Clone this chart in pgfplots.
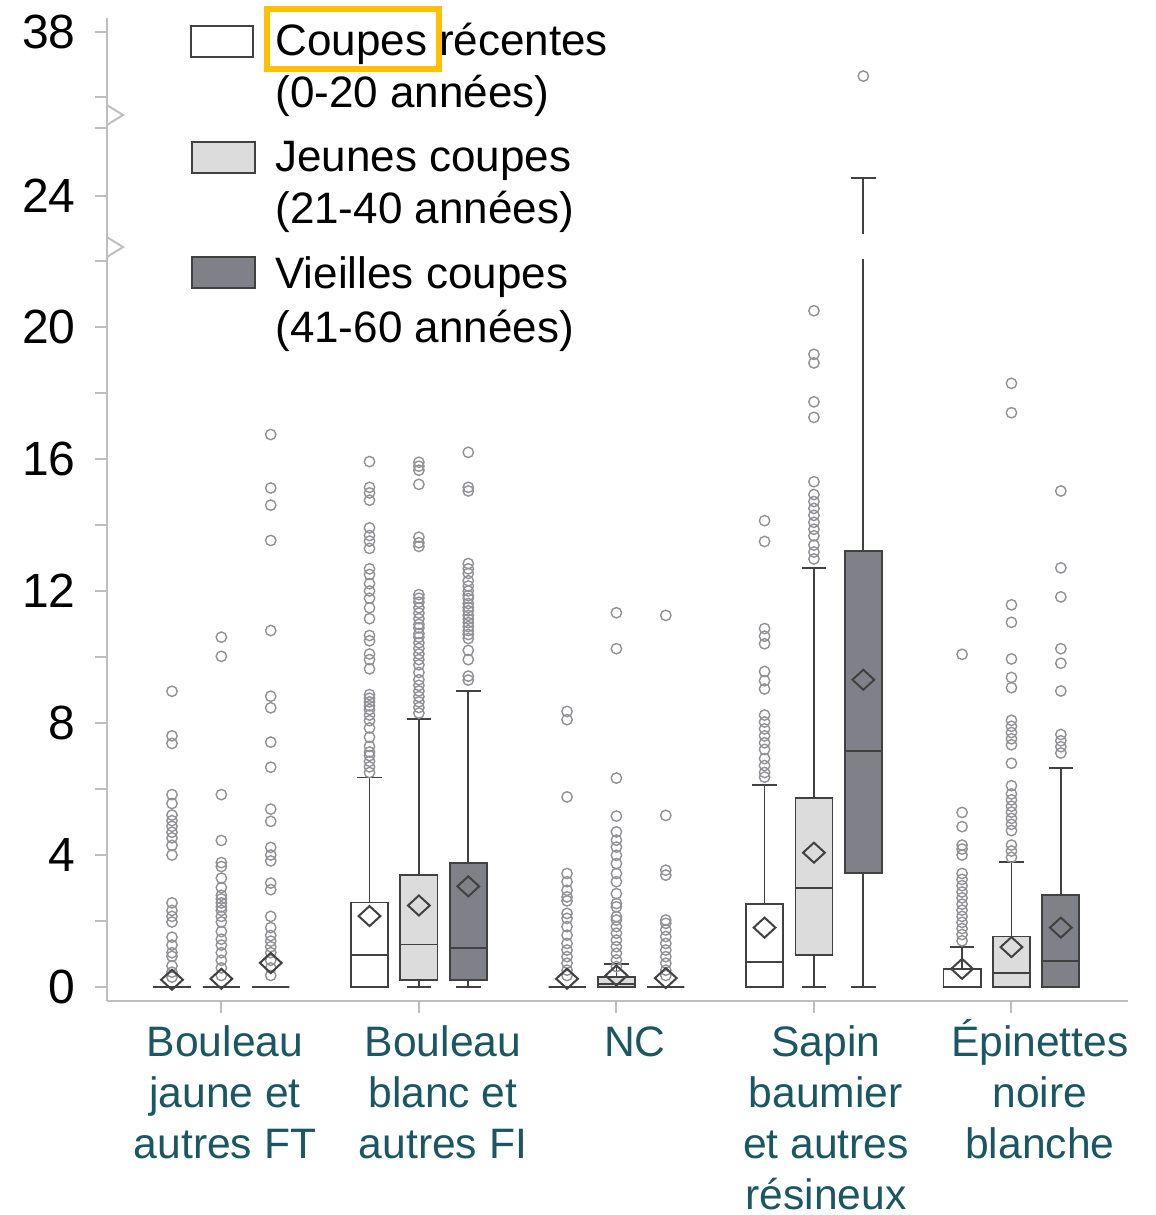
\documentclass[border=0pt]{standalone}
\usepackage{pgfplots}
\pgfplotsset{compat=1.18}
\usepgfplotslibrary{statistics}
\usepackage{fontspec}
\setmainfont{Liberation Sans}
\definecolor{axisgray}{RGB}{190,190,190}
\definecolor{boxline}{RGB}{65,65,65}
\definecolor{lightfill}{RGB}{220,220,220}
\definecolor{darkfill}{RGB}{128,128,136}
\definecolor{outl}{RGB}{145,145,150}
\definecolor{labteal}{RGB}{26,87,99}
\definecolor{hl}{RGB}{255,192,0}
\pgfplotsset{
  boxplot/draw direction=y,
  bx/.style={draw=boxline, line width=0.9pt, solid, mark=none},
  outp/.style={only marks, mark=o, mark size=2.6pt, draw=outl, mark options={line width=0.7pt, draw=outl}},
}
\newcommand{\fl}{\rule{0pt}{19.5pt}}
\begin{document}
\begin{tikzpicture}
\path[use as bounding box] (0,0) rectangle (578pt,-607.5pt);
\begin{axis}[
  at={(53.5pt,-500.5pt)}, anchor=south west,
  scale only axis, width=510.5pt, height=491.5pt,
  xmin=-1.316, xmax=19.36, ymin=-0.424, ymax=29.36,
  axis x line*=bottom, axis y line*=left,
  axis line style={axisgray, line width=1pt, -},
  xtick={1,5,9,13,17},
  xticklabels={,,,,},
  ytick={0,2,4,6,8,10,12,14,16,18,20,22,23.97,26.03,26.97,28.94},
  yticklabels={0,,4,,8,,12,,16,,20,,24,,,38},
  yticklabel style={font=\fontsize{24}{24}\selectfont, inner sep=0pt, anchor=east, xshift=-9.5pt},
  tick style={axisgray, line width=1pt},
  major tick length=6pt,
  tick align=outside,
  clip=false,
]
% outliers
\addplot[outp] coordinates {(0,8.96) (0,7.61) (0,7.38) (0,5.83) (0,5.56) (0,5.21) (0,5.04) (0,4.87) (0,4.69) (0,4.52) (0,4.29) (0,4.0) (0,2.55) (0,2.32) (0,2.14) (0,1.97) (0,1.51) (0,1.27) (0,1.04) (0,0.93) (0,0.64) (0,0.45) (0,0.3)};
\addplot[outp] coordinates {(1,10.6) (1,10.02) (1,5.83) (1,4.44) (1,3.77) (1,3.65) (1,3.30) (1,3.01) (1,2.78) (1,2.67) (1,2.55) (1,2.43) (1,2.32) (1,2.14) (1,1.97) (1,1.68) (1,1.45) (1,1.27) (1,1.04) (1,0.81) (1,0.58) (1,0.35)};
\addplot[outp] coordinates {(2,16.74) (2,15.12) (2,14.6) (2,13.53) (2,10.8) (2,8.81) (2,8.46) (2,7.42) (2,6.66) (2,5.39) (2,5.02) (2,4.23) (2,4.0) (2,3.82) (2,3.15) (2,2.95) (2,2.14) (2,1.80) (2,1.56) (2,1.39) (2,1.22) (2,1.04) (2,0.81) (2,0.58) (2,0.35)};
\addplot[outp] coordinates {(4,15.92) (4,15.14) (4,14.97) (4,14.75) (4,13.91) (4,13.68) (4,13.51) (4,13.29) (4,12.67) (4,12.5) (4,12.22) (4,12.0) (4,11.78) (4,11.49) (4,11.16) (4,10.65) (4,10.49) (4,10.09) (4,9.92) (4,9.64) (4,8.86) (4,8.75) (4,8.64) (4,8.52) (4,8.41) (4,8.24) (4,8.07) (4,7.85) (4,7.57) (4,7.29) (4,7.12) (4,7.01) (4,6.84) (4,6.67) (4,6.5)};
\addplot[outp] coordinates {(5,15.9) (5,15.78) (5,15.66) (5,15.23) (5,13.63) (5,13.46) (5,13.35) (5,11.89) (5,11.78) (5,11.66) (5,11.49) (5,11.33) (5,11.16) (5,10.99) (5,10.88) (5,10.71) (5,10.6) (5,10.43) (5,10.26) (5,10.09) (5,9.92) (5,9.76) (5,9.53) (5,9.31) (5,9.14) (5,8.97) (5,8.8) (5,8.64) (5,8.47) (5,8.3)};
\addplot[outp] coordinates {(6,16.2) (6,15.14) (6,15.03) (6,12.83) (6,12.67) (6,12.53) (6,12.31) (6,12.15) (6,12.0) (6,11.86) (6,11.77) (6,11.62) (6,11.5) (6,11.4) (6,11.26) (6,11.15) (6,11.04) (6,10.92) (6,10.8) (6,10.68) (6,10.56) (6,10.2) (6,9.92) (6,9.42) (6,9.3)};
\addplot[outp] coordinates {(8,8.35) (8,8.1) (8,5.76) (8,3.44) (8,3.19) (8,2.93) (8,2.73) (8,2.61) (8,2.23) (8,2.08) (8,1.83) (8,1.57) (8,1.32) (8,1.12) (8,0.92) (8,0.72) (8,0.51) (8,0.35)};
\addplot[outp] coordinates {(9,11.34) (9,10.25) (9,6.33) (9,5.18) (9,4.7) (9,4.45) (9,4.24) (9,3.99) (9,3.74) (9,3.44) (9,3.19) (9,2.83) (9,2.53) (9,2.43) (9,2.13) (9,2.03) (9,1.83) (9,1.63) (9,1.42) (9,1.22) (9,1.02) (9,0.82) (9,0.62)};
\addplot[outp] coordinates {(10,11.26) (10,5.2) (10,3.54) (10,3.39) (10,2.03) (10,1.93) (10,1.73) (10,1.53) (10,1.32) (10,1.12) (10,0.92) (10,0.72) (10,0.51) (10,0.35)};
\addplot[outp] coordinates {(12,14.13) (12,13.5) (12,10.86) (12,10.63) (12,10.4) (12,9.56) (12,9.28) (12,9.03) (12,8.24) (12,8.03) (12,7.82) (12,7.61) (12,7.4) (12,7.2) (12,6.92) (12,6.71) (12,6.5) (12,6.36)};
\addplot[outp] coordinates {(13,20.49) (13,19.17) (13,18.91) (13,17.73) (13,17.26) (13,15.31) (13,14.92) (13,14.71) (13,14.5) (13,14.29) (13,14.08) (13,13.87) (13,13.67) (13,13.39) (13,13.18) (13,12.97)};
\addplot[outp] coordinates {(14,27.6)};
\addplot[outp] coordinates {(16,10.08) (16,5.29) (16,4.86) (16,4.3) (16,4.18) (16,4.0) (16,3.44) (16,3.26) (16,3.07) (16,2.88) (16,2.7) (16,2.51) (16,2.33) (16,2.14) (16,1.96) (16,1.77) (16,1.59) (16,1.4)};
\addplot[outp] coordinates {(17,18.29) (17,17.4) (17,11.58) (17,11.05) (17,9.94) (17,9.38) (17,9.07) (17,8.08) (17,7.9) (17,7.71) (17,7.52) (17,7.34) (17,6.78) (17,6.1) (17,5.85) (17,5.67) (17,5.48) (17,5.3) (17,5.11) (17,4.93) (17,4.74) (17,4.3) (17,4.12) (17,3.93)};
\addplot[outp] coordinates {(18,15.03) (18,12.7) (18,11.82) (18,10.25) (18,9.81) (18,8.97) (18,7.65) (18,7.46) (18,7.28) (18,7.09)};
% boxes
\addplot[bx, fill=white, boxplot prepared={draw position=0, lower whisker=0, lower quartile=0, median=0, upper quartile=0, upper whisker=0, box extend=0.75, whisker extend=0.5}] coordinates {};
\addplot[bx, fill=lightfill, boxplot prepared={draw position=1, lower whisker=0, lower quartile=0, median=0, upper quartile=0, upper whisker=0, box extend=0.75, whisker extend=0.5}] coordinates {};
\addplot[bx, fill=darkfill, boxplot prepared={draw position=2, lower whisker=0, lower quartile=0, median=0, upper quartile=0, upper whisker=0, box extend=0.75, whisker extend=0.5}] coordinates {};
\addplot[bx, fill=white, boxplot prepared={draw position=4, lower whisker=0, lower quartile=0, median=0.96, upper quartile=2.56, upper whisker=6.35, box extend=0.75, whisker extend=0.5}] coordinates {};
\addplot[bx, fill=lightfill, boxplot prepared={draw position=5, lower whisker=0, lower quartile=0.22, median=1.29, upper quartile=3.39, upper whisker=8.13, box extend=0.75, whisker extend=0.5}] coordinates {};
\addplot[bx, fill=darkfill, boxplot prepared={draw position=6, lower whisker=0, lower quartile=0.22, median=1.18, upper quartile=3.76, upper whisker=8.97, box extend=0.75, whisker extend=0.5}] coordinates {};
\addplot[bx, fill=white, boxplot prepared={draw position=8, lower whisker=0, lower quartile=0, median=0, upper quartile=0, upper whisker=0, box extend=0.75, whisker extend=0.5}] coordinates {};
\addplot[bx, fill=lightfill, boxplot prepared={draw position=9, lower whisker=0, lower quartile=0, median=0.08, upper quartile=0.3, upper whisker=0.7, box extend=0.75, whisker extend=0.5}] coordinates {};
\addplot[bx, fill=darkfill, boxplot prepared={draw position=10, lower whisker=0, lower quartile=0, median=0, upper quartile=0, upper whisker=0, box extend=0.75, whisker extend=0.5}] coordinates {};
\addplot[bx, fill=white, boxplot prepared={draw position=12, lower whisker=0, lower quartile=0, median=0.77, upper quartile=2.52, upper whisker=6.13, box extend=0.75, whisker extend=0.5}] coordinates {};
\addplot[bx, fill=lightfill, boxplot prepared={draw position=13, lower whisker=0, lower quartile=0.97, median=2.99, upper quartile=5.73, upper whisker=12.7, box extend=0.75, whisker extend=0.5}] coordinates {};
\addplot[bx, fill=darkfill, boxplot prepared={draw position=14, lower whisker=0, lower quartile=3.45, median=7.15, upper quartile=13.2, upper whisker=24.52, box extend=0.75, whisker extend=0.5}] coordinates {};
\addplot[bx, fill=white, boxplot prepared={draw position=16, lower whisker=0, lower quartile=0, median=0, upper quartile=0.55, upper whisker=1.22, box extend=0.75, whisker extend=0.5}] coordinates {};
\addplot[bx, fill=lightfill, boxplot prepared={draw position=17, lower whisker=0, lower quartile=0, median=0.42, upper quartile=1.53, upper whisker=3.8, box extend=0.75, whisker extend=0.5}] coordinates {};
\addplot[bx, fill=darkfill, boxplot prepared={draw position=18, lower whisker=0, lower quartile=0, median=0.8, upper quartile=2.8, upper whisker=6.64, box extend=0.75, whisker extend=0.5}] coordinates {};
% means
\addplot[only marks, mark=diamond, mark size=5pt, mark options={xscale=1.45, draw=boxline, fill=none, line width=1pt, solid}] coordinates {(0,0.22) (1,0.25) (2,0.73) (4,2.15) (5,2.47) (6,3.05) (8,0.25) (9,0.35) (10,0.27) (12,1.8) (13,4.07) (14,9.31) (16,0.55) (17,1.21) (18,1.8)};
% break on whisker and axis
\fill[white] (axis cs:13.8,22.05) rectangle (axis cs:14.2,22.82);
\draw[axisgray, line width=1pt] (axis cs:-1.316,26.72) -- ([xshift=8pt]axis cs:-1.316,26.42) -- (axis cs:-1.316,26.12);
\draw[axisgray, line width=1pt] (axis cs:-1.316,22.72) -- ([xshift=8pt]axis cs:-1.316,22.42) -- (axis cs:-1.316,22.12);
% category labels
\begin{scope}[every node/.style={anchor=north, align=center, text=labteal, inner sep=0pt, font=\fontsize{21.3}{25.5}\selectfont}]
\node at ([yshift=-7.8pt]axis cs:1.073,-0.424) {\fl Bouleau\\jaune et\\autres FT};
\node at ([yshift=-7.8pt]axis cs:5.487,-0.424) {\fl Bouleau\\blanc et\\autres FI};
\node at ([yshift=-7.8pt]axis cs:9.374,-0.424) {\fl NC};
\node at ([yshift=-7.8pt]axis cs:13.242,-0.424) {\fl Sapin\\baumier\\et autres\\résineux};
\node at ([yshift=-7.8pt]axis cs:17.574,-0.424) {\fl Épinettes\\noire\\blanche};
\end{scope}
\end{axis}
\begin{scope}[x=0.5pt,y=-0.5pt]
\draw[boxline, line width=0.8pt, fill=white] (191,26) rectangle (253,57);
\draw[boxline, line width=0.8pt, fill=lightfill] (192,142) rectangle (255,173);
\draw[boxline, line width=0.8pt, fill=darkfill] (192,257) rectangle (255,288);
\begin{scope}[every node/.style={anchor=base west, inner sep=0pt, font=\fontsize{22}{22}\selectfont}]
\node at (275,55) {Coupes récentes};
\node at (275,107) {(0-20 années)};
\node at (275,171) {Jeunes coupes};
\node at (275,223) {(21-40 années)};
\node at (275,288) {Vieilles coupes};
\node at (275,342) {(41-60 années)};
\end{scope}
\draw[hl, line width=3pt] (267,9) rectangle (439,69);
\end{scope}
\end{tikzpicture}
\end{document}
